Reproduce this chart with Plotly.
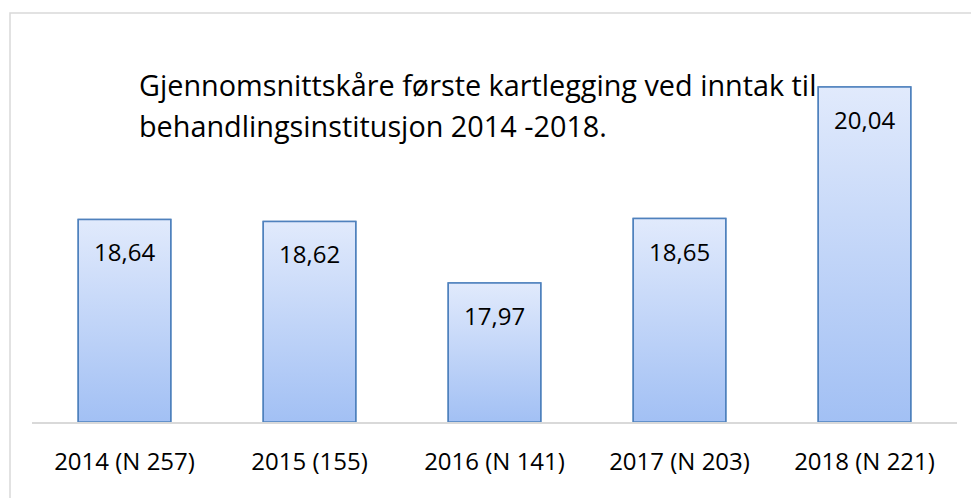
import plotly.graph_objects as go

categories = ["2014 (N 257)", "2015 (155)", "2016 (N 141)", "2017 (N 203)", "2018 (N 221)"]
values = [18.64, 18.62, 17.97, 18.65, 20.04]
title_lines = ["Gjennomsnittskåre første kartlegging ved inntak til",
               "behandlingsinstitusjon 2014 -2018."]

FONT = "Open Sans"
OUTLINE = "#4f81bd"
TOP_C = "#e1eafc"
BOT_C = "#a2c0f4"
BASE = 16.5
HALF = 0.25

fig = go.Figure()
xs = list(range(len(categories)))

# underlying bar trace (solid), gradient polygons drawn on top
fig.add_trace(go.Bar(x=xs, y=[v - BASE for v in values], base=BASE, width=2 * HALF,
                     marker=dict(color=BOT_C, line=dict(color=OUTLINE, width=1.5)),
                     hoverinfo="skip", showlegend=False))

for i, v in zip(xs, values):
    fig.add_trace(go.Scatter(
        x=[i - HALF, i + HALF, i + HALF, i - HALF, i - HALF],
        y=[BASE, BASE, v, v, BASE],
        mode="lines", fill="toself",
        line=dict(color=OUTLINE, width=1.5),
        fillgradient=dict(type="vertical",
                          colorscale=[[0, BOT_C], [1, TOP_C]]),
        hoverinfo="skip", showlegend=False))
    fig.add_annotation(x=i, y=v, xref="x", yref="y", text=f"{v:.2f}".replace(".", ","),
                       showarrow=False, yanchor="top", yshift=-14,
                       font=dict(family=FONT, size=24, color="black"))

W, H = 971, 498
ML, MR, MT, MB = 32, 14, 40, 76
pw, ph = W - ML - MR, H - MT - MB

def px(xp):
    return (xp - ML) / pw

def py(yp):
    return (H - MB - yp) / ph

fig.add_annotation(x=px(137), y=py(84), xref="paper", yref="paper", text=title_lines[0],
                   showarrow=False, xanchor="left", yanchor="middle",
                   font=dict(family=FONT, size=28.8, color="black"))
fig.add_annotation(x=px(137), y=py(126), xref="paper", yref="paper", text=title_lines[1],
                   showarrow=False, xanchor="left", yanchor="middle",
                   font=dict(family=FONT, size=28.8, color="black"))

fig.add_shape(type="rect", xref="paper", yref="paper",
              x0=px(10), x1=px(990), y0=py(520), y1=py(13),
              line=dict(color="#d9d9d9", width=1.5), layer="below")

top = BASE + (values[-1] - BASE) * (422 - MT) / (422 - 87)
fig.update_layout(
    width=W, height=H,
    margin=dict(l=ML, r=MR, t=MT, b=MB),
    paper_bgcolor="white", plot_bgcolor="white",
    xaxis=dict(range=[-0.5, len(categories) - 0.5], tickvals=xs, ticktext=categories,
               showgrid=False, zeroline=False, showline=True, linecolor="#d9d9d9",
               linewidth=1.5, ticks="", ticklabelstandoff=17,
               tickfont=dict(family=FONT, size=24, color="black")),
    yaxis=dict(range=[BASE, top], visible=False, showgrid=False, zeroline=False),
    showlegend=False,
)

fig.write_html("out.html", config={"displayModeBar": False},
               post_script="document.body.style.margin='0';document.body.style.overflow='hidden';")
